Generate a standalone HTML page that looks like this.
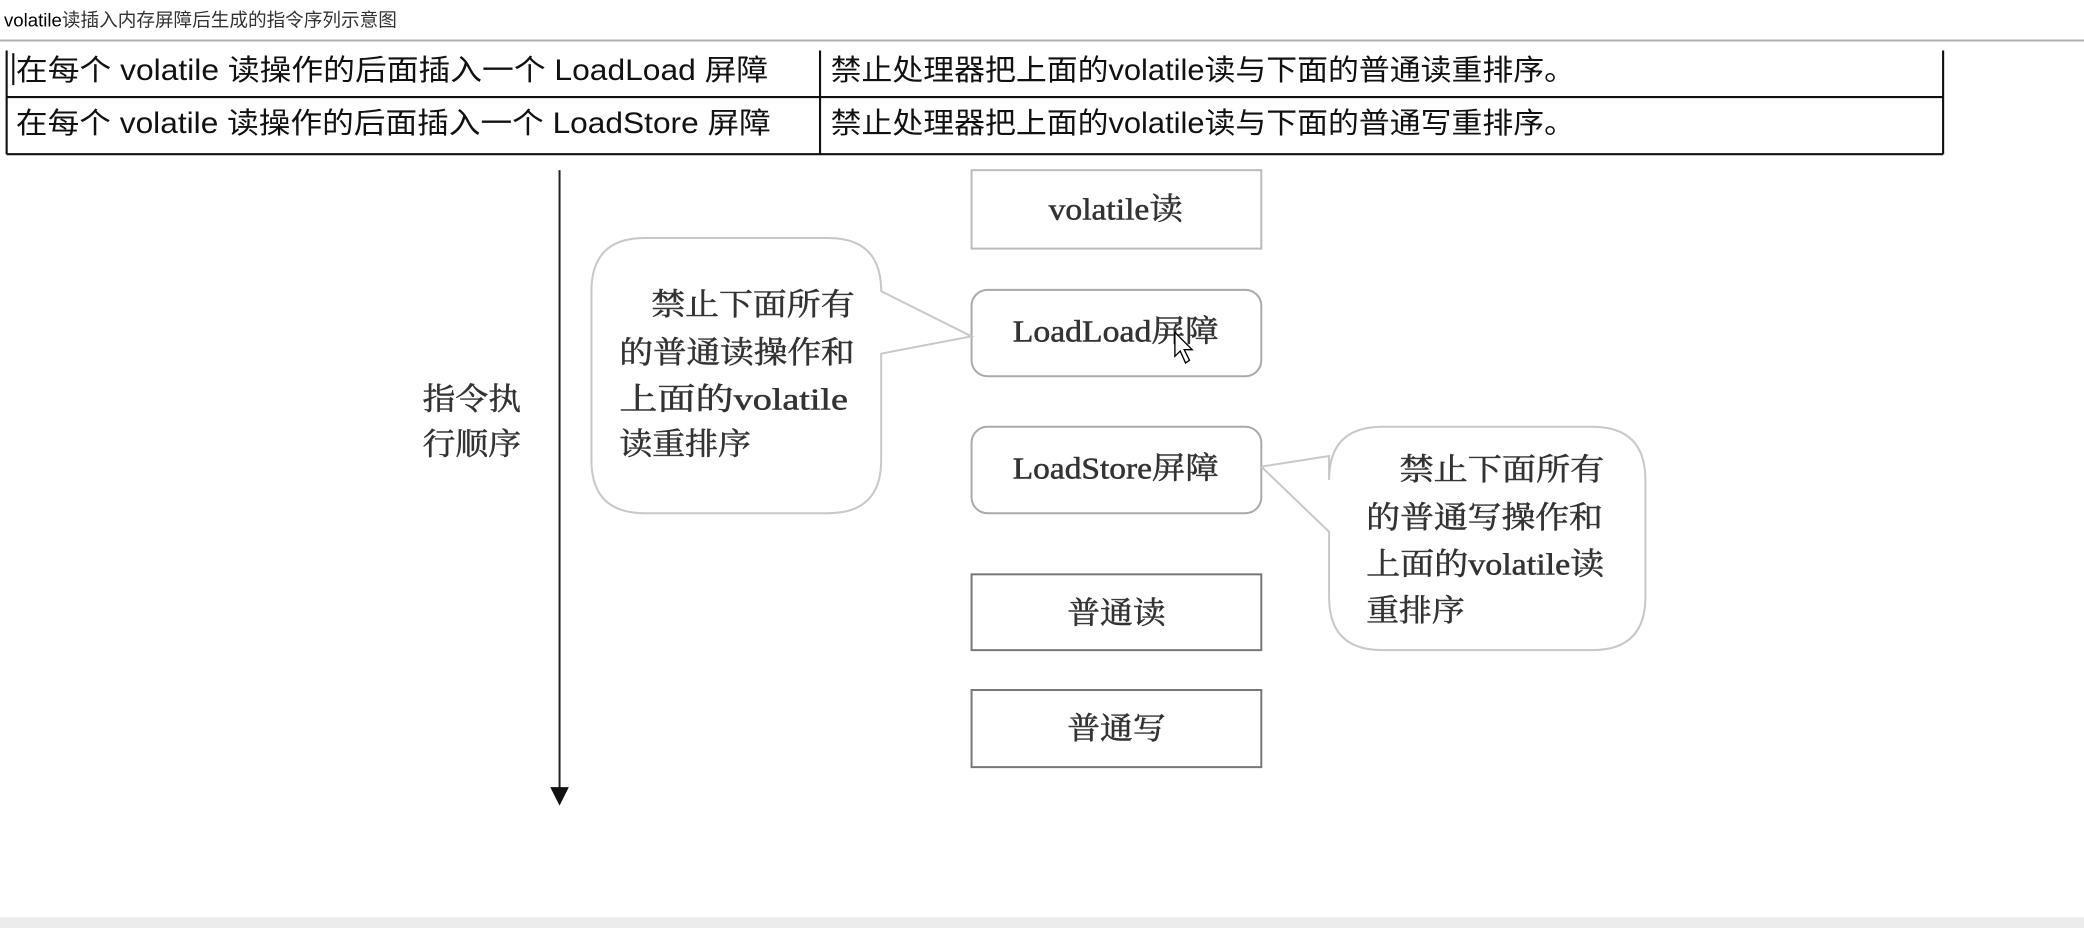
<!DOCTYPE html>
<html><head><meta charset="utf-8"><style>
html,body{margin:0;padding:0;background:#fff;overflow:hidden}
#w{width:1568px;height:698px;transform:scale(1.32908,1.32951);transform-origin:0 0}
</style></head><body><div id="w">
<svg width="1568" height="698" viewBox="0 0 1568 698" xmlns="http://www.w3.org/2000/svg">
<rect x="0" y="690" width="1568" height="8" fill="#ececec"/>
<text x="3" y="20" font-family="Liberation Sans, Noto Sans CJK SC, sans-serif" font-size="14" fill="#000">volatile<tspan fill="#333">读插入内存屏障后生成的指令序列示意图</tspan></text>
<line x1="0" y1="30.5" x2="1568" y2="30.5" stroke="#b0b0b0" stroke-width="1.5"/>
<g stroke="#111" stroke-width="1.6" fill="none">
<line x1="5" y1="38" x2="5" y2="116"/>
<line x1="1462" y1="38" x2="1462" y2="116"/>
<line x1="617" y1="38" x2="617" y2="116"/>
<line x1="5" y1="73" x2="1462" y2="73"/>
<line x1="5" y1="116" x2="1462" y2="116"/>
<line x1="10" y1="40" x2="10" y2="64"/>
</g>
<g font-family="Liberation Sans, Noto Sans CJK SC, sans-serif" font-size="22" fill="#111" lengthAdjust="spacingAndGlyphs">
<text x="12" y="60" textLength="566" lengthAdjust="spacingAndGlyphs">在每个 volatile 读操作的后面插入一个 LoadLoad 屏障</text>
<text x="12" y="100" textLength="568" lengthAdjust="spacingAndGlyphs">在每个 volatile 读操作的后面插入一个 LoadStore 屏障</text>
<text x="625" y="60" textLength="560" lengthAdjust="spacingAndGlyphs">禁止处理器把上面的volatile读与下面的普通读重排序。</text>
<text x="625" y="100" textLength="560" lengthAdjust="spacingAndGlyphs">禁止处理器把上面的volatile读与下面的普通写重排序。</text>
</g>
<line x1="421" y1="128" x2="421" y2="594" stroke="#222" stroke-width="1.5"/>
<polygon points="414,592 428,592 421,606" fill="#111"/>
<g fill="#fff" stroke="#999" stroke-width="1.5">
<rect x="731" y="128" width="218" height="59" stroke="#bbb"/>
<rect x="731" y="218" width="218" height="65" rx="12" stroke="#aaa"/>
<rect x="731" y="321" width="218" height="65" rx="12" stroke="#aaa"/>
<rect x="731" y="432" width="218" height="57" stroke="#777"/>
<rect x="731" y="519" width="218" height="58" stroke="#777"/>
<path d="M485,179 H623 Q663,179 663,219 L731,253 L663,266 V346 Q663,386 623,386 H485 Q445,386 445,346 V219 Q445,179 485,179 Z" stroke="#c8c8c8"/>
<path d="M1040,321 H1198 Q1238,321 1238,361 V449 Q1238,489 1198,489 H1040 Q1000,489 1000,449 V400 L949,351 L1000,343 V361 Q1000,321 1040,321 Z" stroke="#c8c8c8"/>
</g>
<g font-family="Liberation Serif, Noto Serif CJK SC, serif" font-size="23" fill="#333" stroke="#333" stroke-width="0.4">
<text x="318" y="308" textLength="74" lengthAdjust="spacingAndGlyphs">指令执</text>
<text x="318" y="342" textLength="74" lengthAdjust="spacingAndGlyphs">行顺序</text>
<text x="789" y="165" textLength="101" lengthAdjust="spacingAndGlyphs">volatile读</text>
<text x="762" y="257" textLength="155" lengthAdjust="spacingAndGlyphs">LoadLoad屏障</text>
<text x="762" y="360" textLength="155" lengthAdjust="spacingAndGlyphs">LoadStore屏障</text>
<text x="803" y="469" textLength="74" lengthAdjust="spacingAndGlyphs">普通读</text>
<text x="803" y="556" textLength="74" lengthAdjust="spacingAndGlyphs">普通写</text>
<text x="490" y="237" textLength="153" lengthAdjust="spacingAndGlyphs">禁止下面所有</text>
<text x="466" y="273" textLength="177" lengthAdjust="spacingAndGlyphs">的普通读操作和</text>
<text x="466" y="308" textLength="172" lengthAdjust="spacingAndGlyphs">上面的volatile</text>
<text x="466" y="342" textLength="99" lengthAdjust="spacingAndGlyphs">读重排序</text>
<text x="1053" y="361" textLength="154" lengthAdjust="spacingAndGlyphs">禁止下面所有</text>
<text x="1028" y="397" textLength="178" lengthAdjust="spacingAndGlyphs">的普通写操作和</text>
<text x="1028" y="432" textLength="179" lengthAdjust="spacingAndGlyphs">上面的volatile读</text>
<text x="1028" y="467" textLength="74" lengthAdjust="spacingAndGlyphs">重排序</text>
</g>
<path d="M884,250 V268 L888,264 L892,273 L895,271 L891,263 L897,263 Z" fill="#fff" stroke="#000" stroke-width="1"/>
</svg>
</div></body></html>
